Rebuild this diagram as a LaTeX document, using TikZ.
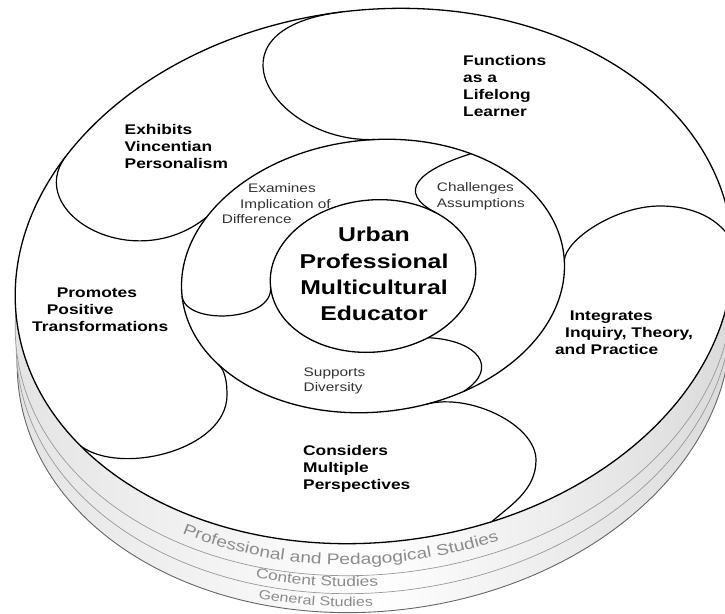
\documentclass[tikz,border=0pt]{standalone}
\usepackage{fontspec}
\newfontfamily\labfont[FakeStretch=1.24]{Liberation Sans}
\usetikzlibrary{decorations.text}
\newcommand\bandA{\labfont\fontsize{15.5}{18}\selectfont}
\newcommand\bandB{\labfont\fontsize{14}{16}\selectfont}
\newcommand\bandC{\labfont\fontsize{13}{15}\selectfont}
\begin{document}
\begin{tikzpicture}[x=1pt,y=-1pt,
  face/.style={draw=black,line width=1.3pt},
  lobe/.style={draw=black,line width=1.2pt},
  bandshade/.style={left color=black!11,right color=black!15,middle color=white},
  outerlab/.style={font=\labfont\bfseries\fontsize{14}{17}\selectfont, align=left, inner sep=0pt, anchor=north west, text=black},
  innerlab/.style={font=\labfont\fontsize{12.4}{15.3}\selectfont, align=left, inner sep=0pt, anchor=north west, text=black!80},
  centerlab/.style={font=\labfont\bfseries\fontsize{20}{26.4}\selectfont, align=center, inner sep=0pt, anchor=north, text=black},
  bandtext/.style={decorate, decoration={text along path, text align=center, text color=black!45, text={#1}}}]
\useasboundingbox (0,0) rectangle (725,613);
\clip (0,0) rectangle (725,613);
\fill[white] (0,0) rectangle (725,613);
% stacked layers
\begin{scope}[shift={(374,345)},rotate=7]
  \shadedraw[bandshade, draw=black!60, line width=0.9pt] (0,0) ellipse [x radius=358, y radius=266];
\end{scope}
\begin{scope}[shift={(374,326)},rotate=7]
  \shadedraw[bandshade, draw=black!40, line width=0.7pt] (0,0) ellipse [x radius=359, y radius=266];
\end{scope}
\begin{scope}[shift={(374,308)},rotate=7]
  \shadedraw[bandshade, draw=black!40, line width=0.7pt] (0,0) ellipse [x radius=360, y radius=266];
\end{scope}
% layer labels
\path[bandtext={|\bandA|Professional and Pedagogical Studies}] plot[domain=0:70, samples=36, smooth, variable=\u]
  ({374 + 360*cos(136.5-\u)*cos(7) + 266*sin(136.5-\u)*sin(7)}, {297 - 360*cos(136.5-\u)*sin(7) + 266*sin(136.5-\u)*cos(7)});
\path[bandtext={|\bandB|Content Studies}] plot[domain=0:70, samples=36, smooth, variable=\u]
  ({374 + 360*cos(140.6-\u)*cos(7) + 266*sin(140.6-\u)*sin(7)}, {319 - 360*cos(140.6-\u)*sin(7) + 266*sin(140.6-\u)*cos(7)});
\path[bandtext={|\bandC|General Studies}] plot[domain=0:70, samples=36, smooth, variable=\u]
  ({374 + 360*cos(140.8-\u)*cos(7) + 266*sin(140.8-\u)*sin(7)}, {339 - 360*cos(140.8-\u)*sin(7) + 266*sin(140.8-\u)*cos(7)});
% top face
\begin{scope}[shift={(374,276)},rotate=7]
  \filldraw[fill=white, face] (0,0) ellipse [x radius=360, y radius=266];
  \coordinate (oF) at (270:360 and 266);
  \coordinate (oE) at (216:360 and 266);
  \coordinate (oP) at (150:360 and 266);
  \coordinate (oC) at (76:360 and 266);
  \coordinate (oI) at (2:360 and 266);
\end{scope}
\begin{scope}[shift={(373,276)},rotate=6]
  \draw[face] (0,0) ellipse [x radius=192, y radius=136];
  \coordinate (mF) at (275:192 and 136);
  \coordinate (mE) at (214:192 and 136);
  \coordinate (mP) at (148:192 and 136);
  \coordinate (mC) at (78:192 and 136);
  \coordinate (mI) at (2:192 and 136);
  \coordinate (mX) at (180:192 and 136);
  \coordinate (mH) at (305:192 and 136);
  \coordinate (mS) at (66:192 and 136);
  \draw[face] (0,0) ellipse [x radius=103, y radius=76];
  \coordinate (iX) at (180:103 and 76);
  \coordinate (iH) at (312:103 and 76);
  \coordinate (iS) at (62:103 and 76);
\end{scope}
\coordinate (pR) at (227,395);
\coordinate (cR) at (536,460);
\coordinate (iT) at (660,206);
% outer lobes
\draw[lobe] (oF) .. controls (198.7,29.6) and (275.5,143.8) .. (mF);
\draw[lobe] (oE) .. controls (23.3,211.8) and (132.7,276.9) .. (mE);
\draw[lobe] (mP) .. controls (226,371.5) and (227,385) .. (pR) .. controls (227,450) and (120.8,476) .. (oP);
\draw[lobe] (mC) .. controls (470.2,392.8) and (536,425) .. (cR) .. controls (536,490) and (510.7,505.1) .. (oC);
\draw[lobe] (mI) .. controls (565,240) and (615,206) .. (iT) .. controls (695,206) and (719.7,219.6) .. (oI);
% inner lobes
\draw[lobe] (mX) .. controls (185.2,326) and (274.1,321.6) .. (iX);
\draw[lobe] (iH) .. controls (395.7,191.7) and (418.65,170.2) .. (mH);
\draw[lobe] (iS) .. controls (478.1,340.1) and (500,368) .. (mS);
% labels
\node[outerlab] (tFn) at (463,55.3) {Functions\\as a\\Lifelong\\Learner};
\node[outerlab] (tEx) at (124.5,124.6) {Exhibits\\Vincentian\\Personalism};
\node[outerlab] (tPr) at (32,287.7) {\hspace*{24.7pt}Promotes\\\hspace*{14.7pt}Positive\\Transformations};
\node[outerlab] (tIn) at (554.8,311) {\hspace*{14.8pt}Integrates\\\hspace*{10.2pt}Inquiry, Theory,\\and Practice};
\node[outerlab] (tCo) at (303,444.8) {Considers\\Multiple\\Perspectives};
\node[centerlab] (tUr) at (374,227.1) {Urban\\Professional\\Multicultural\\Educator};
\node[innerlab] (tExa) at (221.7,183.7) {\hspace*{26.3pt}Examines\\\hspace*{18.3pt}Implication of\\Difference};
\node[innerlab] (tCh) at (436.7,182.6) {Challenges\\Assumptions};
\node[innerlab] (tSu) at (303.5,367.7) {Supports\\Diversity};
\end{tikzpicture}
\end{document}
